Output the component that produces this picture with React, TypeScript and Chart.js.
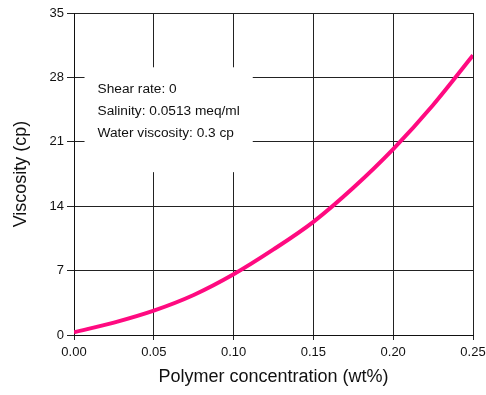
import React, { useEffect, useRef } from "react";
import { Chart, registerables } from "chart.js";

Chart.register(...registerables);

const concentration = [0, 0.025, 0.05, 0.075, 0.1, 0.125, 0.15, 0.175, 0.2, 0.225, 0.25];
const viscosity = [0.3, 1.35, 2.65, 4.35, 6.6, 9.3, 12.3, 16.0, 20.2, 25.0, 30.4];
const yTicks = [0, 7, 14, 21, 28, 35];
const xTicks = [0, 0.05, 0.1, 0.15, 0.2, 0.25];
const infoLines = ["Shear rate: 0", "Salinity: 0.0513 meq/ml", "Water viscosity: 0.3 cp"];

const FONT = "Arial, 'Liberation Sans', sans-serif";

const infoBox = {
  id: "infoBox",
  afterDatasetsDraw(chart: any) {
    const { ctx, scales } = chart;
    const x = scales.x, y = scales.y;
    const x0 = x.getPixelForValue(0.0066);
    const x1 = x.getPixelForValue(0.112);
    const y0 = y.getPixelForValue(29.1);
    const y1 = y.getPixelForValue(17.7);
    ctx.save();
    ctx.fillStyle = "#ffffff";
    ctx.fillRect(x0, y0, x1 - x0, y1 - y0);
    ctx.fillStyle = "#111";
    ctx.font = "13.7px " + FONT;
    ctx.textBaseline = "middle";
    ctx.textAlign = "left";
    infoLines.forEach((t, i) => {
      ctx.fillText(t, x0 + 13, y0 + 22 + i * 22);
    });
    ctx.restore();
  },
};

export default function App() {
  const ref = useRef<HTMLCanvasElement>(null);
  useEffect(() => {
    if (!ref.current) return;
    const chart = new Chart(ref.current, {
      type: "line",
      data: {
        datasets: [
          {
            data: concentration.map((c, i) => ({ x: c, y: viscosity[i] })),
            borderColor: "#ff0a80",
            borderWidth: 4,
            pointRadius: 0,
            tension: 0.4,
            cubicInterpolationMode: "monotone",
            fill: false,
          },
        ],
      },
      options: {
        animation: false,
        responsive: false,
        layout: { padding: { top: 13, right: 13, left: 0, bottom: 0 } },
        plugins: { legend: { display: false }, tooltip: { enabled: false } },
        scales: {
          x: {
            type: "linear",
            min: 0,
            max: 0.25,
            afterBuildTicks: (s: any) => {
              s.ticks = xTicks.map((v) => ({ value: v }));
            },
            afterFit: (s: any) => {
              s.height = 60;
              s.paddingRight = 0;
              s.paddingLeft = 0;
            },
            ticks: {
              color: "#111",
              font: { size: 13, family: FONT },
              padding: 5,
              callback: (v: any) => Number(v).toFixed(2),
              maxRotation: 0,
            },
            grid: { color: "#222", lineWidth: 1, tickLength: 5, drawTicks: true },
            border: { color: "#111", width: 1 },
            title: {
              display: true,
              text: "Polymer concentration (wt%)",
              color: "#111",
              font: { size: 18, family: FONT },
              padding: { top: 6, bottom: 7 },
            },
          },
          y: {
            type: "linear",
            min: 0,
            max: 35,
            afterBuildTicks: (s: any) => {
              s.ticks = yTicks.map((v) => ({ value: v }));
            },
            afterFit: (s: any) => {
              s.width = 74;
              s.paddingTop = 0;
              s.paddingBottom = 0;
            },
            ticks: {
              color: "#111",
              font: { size: 13, family: FONT },
              padding: 3,
            },
            grid: { color: "#222", lineWidth: 1, tickLength: 7 },
            border: { color: "#111", width: 1 },
            title: {
              display: true,
              text: "Viscosity (cp)",
              color: "#111",
              font: { size: 18, family: FONT },
              padding: { top: 10, bottom: 4 },
            },
          },
        },
      },
      plugins: [infoBox],
    } as any);
    return () => chart.destroy();
  }, []);
  return (
    <div style={{ position: "absolute", left: 0, top: 0, width: 486, height: 395 }}>
      <canvas ref={ref} width={486} height={395} />
    </div>
  );
}
